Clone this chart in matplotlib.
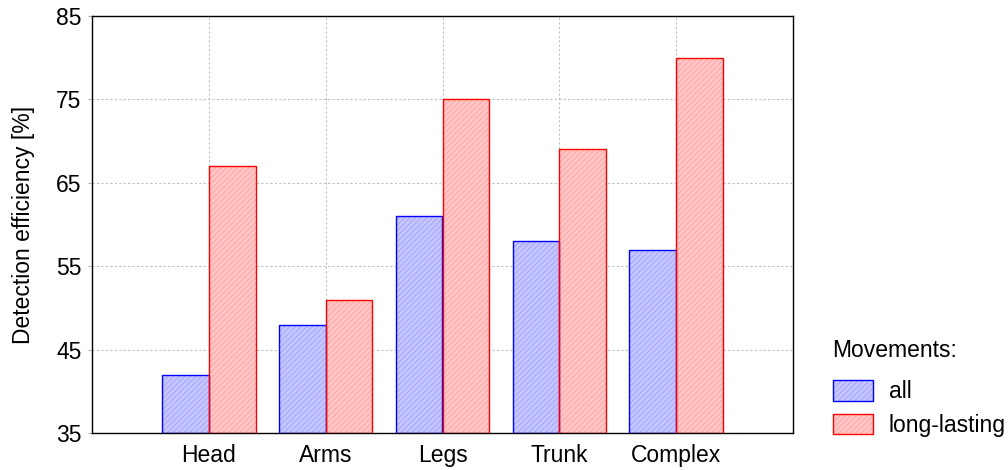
import matplotlib
matplotlib.use("Agg")
import matplotlib.pyplot as plt
import numpy as np
from matplotlib.patches import Patch

plt.rcParams['font.family'] = ['Liberation Sans', 'DejaVu Sans']
plt.rcParams['hatch.linewidth'] = 0.6

categories = ["Head", "Arms", "Legs", "Trunk", "Complex"]
all_moves = [42, 48, 61, 58, 57]
long_lasting = [67, 51, 75, 69, 80]
yticks = [35, 45, 55, 65, 75, 85]

FS = 16.5

fig = plt.figure(figsize=(10.08, 4.70), dpi=100)
ax = fig.add_axes([92 / 1008, 1 - 433 / 470, (793 - 92) / 1008, (433 - 16) / 470])

x = np.arange(1, len(categories) + 1)
w = 0.4
base = 35

styles = [
    ('all', all_moves, -w / 2, '#c6c6ff', '#a0a0ff', '#0000ff'),
    ('long-lasting', long_lasting, w / 2, '#ffc6c6', '#ffa0a0', '#ff0000'),
]
handles = []
labels = []
for label, vals, off, face, hatchc, edge in styles:
    heights = np.array(vals) - base
    ax.bar(x + off, heights, w, bottom=base, color=face, edgecolor=hatchc,
           hatch='//////', linewidth=0, zorder=2)
    ax.bar(x + off, heights, w, bottom=base, fill=False, edgecolor=edge,
           linewidth=1.0, zorder=3)
    handles.append((Patch(facecolor=face, edgecolor=hatchc, hatch='//////', linewidth=0),
                    Patch(fill=False, edgecolor=edge, linewidth=1.0)))
    labels.append(label)

ax.set_xlim(0, 6)
ax.set_ylim(35, 85)
ax.set_yticks(yticks)
ax.set_xticks(x)
ax.set_xticklabels(categories)
ax.tick_params(axis='x', length=0, pad=8, labelsize=FS)
ax.tick_params(axis='y', length=3, color='#b0b0b0', pad=4.5, labelsize=FS)
ax.grid(True, color='#c0c0c0', linestyle=(0, (2, 2)), linewidth=0.8, zorder=0)
ax.set_axisbelow(True)
for s in ax.spines.values():
    s.set_linewidth(1.0)
ax.set_ylabel("Detection efficiency [%]", fontsize=FS, labelpad=15)

leg = fig.legend(handles=handles, labels=labels, title="Movements:", loc='upper left',
                 bbox_to_anchor=(812 / 1008, 1 - 318 / 470), frameon=False,
                 fontsize=FS, title_fontsize=FS, handlelength=1.75, handleheight=1.0,
                 handletextpad=0.7, labelspacing=0.45)
leg._legend_box.align = "left"
leg._legend_box.sep = 0.45 * FS + 6

fig.savefig("out.png", dpi=100)
